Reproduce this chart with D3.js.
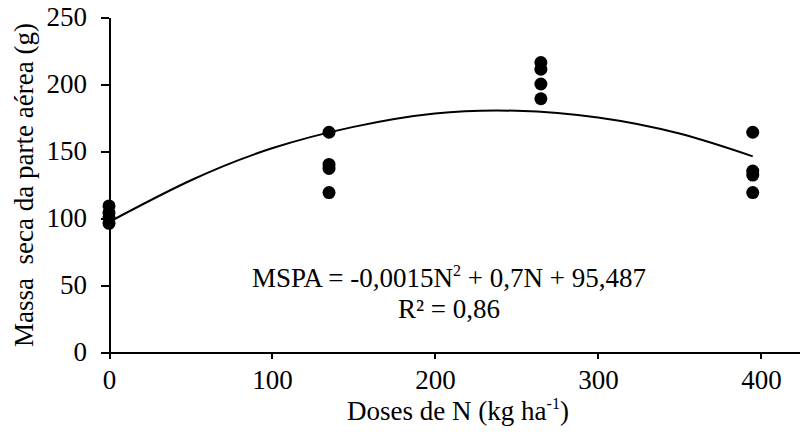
<!DOCTYPE html>
<meta charset="utf-8">
<style>
body { margin: 0; background: #fff; }
svg { display: block; }
.axis path, .axis line { fill: none; stroke: #000; stroke-width: 2px; shape-rendering: crispEdges; }
.axis text { fill: #000; font: 27px "Liberation Serif", "Times New Roman", serif; }
.label { font: 27px "Liberation Serif", "Times New Roman", serif; fill: #000; }
.eq { font: 27px "Liberation Serif", "Times New Roman", serif; fill: #000; }
</style>
<body>
<script src="https://d3js.org/d3.v7.min.js"></script>
<script>

// observed values (dose of N, kg/ha -> dry mass, g)
var doses = [0, 135, 265, 395];
var massa = [
  [109, 104, 100, 96],
  [164, 140, 137, 119],
  [216, 211, 200, 189],
  [164, 135, 132, 119]
];

// trend line
var trendX = [0, 50, 100, 150, 200, 250, 300, 350, 395];
var trendY = [97, 128, 152, 168, 178, 180, 175, 163, 146];

var xTicks = [0, 100, 200, 300, 400];
var yTicks = [0, 50, 100, 150, 200, 250];

var width = 800, height = 436;

var x = d3.scaleLinear().domain([0, 424]).range([109, 800]);
var y = d3.scaleLinear().domain([0, 250]).range([352, 17]);

var svg = d3.select("body").append("svg")
    .attr("width", width)
    .attr("height", height);

svg.append("g")
    .attr("class", "x axis")
    .attr("transform", "translate(0," + y(0) + ")")
    .call(d3.axisBottom(x).tickValues(xTicks).tickSize(7).tickSizeOuter(0).tickPadding(11));

svg.append("g")
    .attr("class", "y axis")
    .attr("transform", "translate(" + x(0) + ",0)")
    .call(d3.axisLeft(y).tickValues(yTicks).tickSize(8).tickSizeOuter(0).tickPadding(14));

// trend line
var pts = trendX.map(function(d, i) { return [d, trendY[i]]; });
svg.append("path")
    .datum(pts)
    .attr("fill", "none")
    .attr("stroke", "#000")
    .attr("stroke-width", 2)
    .attr("d", d3.line()
      .x(function(d) { return x(d[0]); })
      .y(function(d) { return y(d[1]); })
      .curve(d3.curveNatural));

// dots
var obs = [];
doses.forEach(function(d, i) {
  massa[i].forEach(function(v) { obs.push({dose: d, value: v}); });
});

svg.selectAll(".dot")
    .data(obs)
  .enter().append("circle")
    .attr("class", "dot")
    .attr("r", 6.5)
    .attr("cx", function(d) { return x(d.dose); })
    .attr("cy", function(d) { return y(d.value); })
    .style("fill", "#000");

// axis titles
var xl = svg.append("text")
    .attr("class", "label")
    .attr("x", 458)
    .attr("y", 420)
    .attr("text-anchor", "middle");
xl.append("tspan").text("Doses de N (kg ha");
xl.append("tspan").attr("font-size", "16px").attr("dy", -11).text("-1");
xl.append("tspan").attr("dy", 11).text(")");

svg.append("text")
    .attr("class", "label")
    .attr("transform", "translate(33,185) rotate(-90)")
    .attr("text-anchor", "middle")
    .style("white-space", "pre")
    .text("Massa  seca da parte aérea (g)");

// regression equation
var eq = svg.append("text")
    .attr("class", "eq")
    .attr("x", 449)
    .attr("y", 287)
    .attr("text-anchor", "middle");
eq.append("tspan").text("MSPA = -0,0015N");
eq.append("tspan").attr("font-size", "16px").attr("dy", -11).text("2");
eq.append("tspan").attr("dy", 11).text(" + 0,7N + 95,487");

svg.append("text")
    .attr("class", "eq")
    .attr("x", 449)
    .attr("y", 318)
    .attr("text-anchor", "middle")
    .text("R² = 0,86");

</script>
